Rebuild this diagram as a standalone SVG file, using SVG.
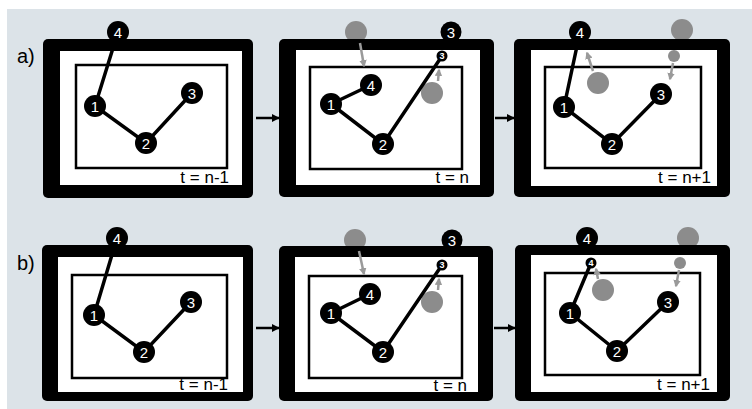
<svg xmlns="http://www.w3.org/2000/svg" width="752" height="409" viewBox="0 0 752 409">
<defs>
<style>
.bg{fill:#dce3e8}
.frame{fill:#000}
.white{fill:#fff}
.inner{fill:#fff;stroke:#000;stroke-width:2.5}
.edge{stroke:#000;stroke-width:3.5;fill:none}
.node{fill:#000}
.nt{fill:#fff;font-family:"Liberation Sans",Arial,sans-serif;font-size:15px;text-anchor:middle}
.snt{fill:#fff;font-family:"Liberation Sans",Arial,sans-serif;font-size:9px;font-weight:bold;text-anchor:middle}
.ghost{fill:#8c8c8c}
.garrow{stroke:#9a9a9a;stroke-width:2.5;fill:none;marker-end:url(#gh)}
.tlabel{font-family:"Liberation Sans",Arial,sans-serif;font-size:17px;fill:#000;text-anchor:end}
.rowlabel{font-family:"Liberation Sans",Arial,sans-serif;font-size:20px;fill:#000}
.flow{stroke:#000;stroke-width:2.5;fill:none;marker-end:url(#bh)}
</style>
<marker id="gh" viewBox="0 0 10 10" refX="8" refY="5" markerWidth="3" markerHeight="3" orient="auto" markerUnits="strokeWidth">
<path d="M0,0 L10,5 L0,10 z" fill="#9a9a9a"/>
</marker>
<marker id="bh" viewBox="0 0 10 10" refX="9" refY="5" markerWidth="3.2" markerHeight="3.2" orient="auto" markerUnits="strokeWidth">
<path d="M0,0 L10,5 L0,10 z" fill="#000"/>
</marker>
</defs>
<rect class="bg" x="7" y="9" width="745" height="400"/>
<text class="rowlabel" x="17" y="63">a)</text>
<text class="rowlabel" x="17" y="270">b)</text>

<g id="a1">
<rect class="frame" x="43" y="39" width="210" height="159" rx="5"/>
<rect class="white" x="60" y="51" width="182" height="134"/>
<rect class="inner" x="76" y="65" width="151" height="103"/>
<text class="tlabel" x="229" y="183">t = n-1</text>
</g>
<g id="a2">
<circle class="ghost" cx="356" cy="32" r="11"/>
<circle class="node" cx="451" cy="32" r="10.5"/>
<text class="nt" x="451" y="37.5">3</text>
<rect class="frame" x="279" y="39" width="215" height="158" rx="5"/>
<rect class="white" x="296" y="50" width="184" height="135"/>
<rect class="inner" x="310" y="67" width="152" height="102"/>
<circle class="ghost" cx="432" cy="93" r="11"/>
<text class="tlabel" x="469" y="183">t = n</text>
</g>
<g id="a3">
<circle class="ghost" cx="682" cy="30" r="11"/>
<rect class="frame" x="514" y="39" width="216" height="158" rx="5"/>
<rect class="white" x="531" y="50" width="186" height="136"/>
<rect class="inner" x="545" y="67" width="156" height="101"/>
<circle class="ghost" cx="598" cy="83" r="11"/>
<circle class="ghost" cx="674" cy="56" r="6"/>
<text class="tlabel" x="711" y="183">t = n+1</text>
</g>

<g id="b1">
<rect class="frame" x="42" y="245" width="211" height="156" rx="5"/>
<rect class="white" x="58" y="257" width="185" height="135"/>
<rect class="inner" x="72" y="275" width="155" height="103"/>
<text class="tlabel" x="228" y="390">t = n-1</text>
</g>
<g id="b2">
<circle class="ghost" cx="355" cy="240" r="11"/>
<circle class="node" cx="452" cy="240" r="10.5"/>
<text class="nt" x="452" y="245.5">3</text>
<rect class="frame" x="279" y="246" width="214" height="155" rx="5"/>
<rect class="white" x="295" y="257" width="183" height="135"/>
<rect class="inner" x="309" y="276" width="153" height="102"/>
<circle class="ghost" cx="432" cy="302" r="11"/>
<text class="tlabel" x="467" y="391">t = n</text>
</g>
<g id="b3">
<circle class="ghost" cx="688" cy="238" r="11"/>
<rect class="frame" x="515" y="245" width="215" height="156" rx="5"/>
<rect class="white" x="531" y="255" width="186" height="137"/>
<rect class="inner" x="545" y="273" width="155" height="102"/>
<circle class="ghost" cx="603" cy="290" r="11"/>
<circle class="ghost" cx="680" cy="263" r="6"/>
<text class="tlabel" x="710" y="390">t = n+1</text>
</g>

<g id="connectors">
<line class="flow" x1="256" y1="118" x2="279" y2="118"/>
<line class="flow" x1="495" y1="118" x2="514" y2="118"/>
<line class="flow" x1="256" y1="328" x2="279" y2="328"/>
<line class="flow" x1="494" y1="328" x2="515" y2="328"/>
<line class="garrow" x1="360" y1="43" x2="364" y2="66"/>
<line class="garrow" x1="438" y1="81" x2="439" y2="70"/>
<line class="garrow" x1="593" y1="71" x2="587" y2="53"/>
<line class="garrow" x1="673" y1="63" x2="670" y2="79"/>
<line class="garrow" x1="359" y1="251" x2="364" y2="274"/>
<line class="garrow" x1="438" y1="290" x2="439" y2="279"/>
<line class="garrow" x1="598" y1="279" x2="596" y2="269"/>
<line class="garrow" x1="679" y1="270" x2="676" y2="286"/>
<!-- edges a1 -->
<polyline class="edge" points="118,32 95,106 146,143 192,93"/>
<!-- edges a2 -->
<polyline class="edge" points="371,85 331,104 383,144 442,56"/>
<!-- edges a3 -->
<polyline class="edge" points="580,32 564,107 612,144 661,94"/>
<!-- edges b1 -->
<polyline class="edge" points="117,238 94,315 144,352 191,302"/>
<!-- edges b2 -->
<polyline class="edge" points="370,294 331,313 383,352 442,265"/>
<!-- edges b3 -->
<polyline class="edge" points="591,263 570,313 617,351 668,302"/>
</g>

<g id="a1-n4"><circle class="node" cx="118" cy="32" r="11"/><text class="nt" x="118" y="37.5">4</text></g>
<g id="a1-n1"><circle class="node" cx="95" cy="106" r="11"/><text class="nt" x="95" y="111.5">1</text></g>
<g id="a1-n2"><circle class="node" cx="146" cy="143" r="11"/><text class="nt" x="146" y="148.5">2</text></g>
<g id="a1-n3"><circle class="node" cx="192" cy="93" r="11"/><text class="nt" x="192" y="98.5">3</text></g>

<g id="a2-n4"><circle class="node" cx="371" cy="85" r="11"/><text class="nt" x="371" y="90.5">4</text></g>
<g id="a2-n1"><circle class="node" cx="331" cy="104" r="11"/><text class="nt" x="331" y="109.5">1</text></g>
<g id="a2-n2"><circle class="node" cx="383" cy="144" r="11"/><text class="nt" x="383" y="149.5">2</text></g>
<g id="a2-n3s"><circle class="node" cx="442" cy="56" r="5.5"/><text class="snt" x="442" y="59.2">3</text></g>

<g id="a3-n4"><circle class="node" cx="580" cy="32" r="11"/><text class="nt" x="580" y="37.5">4</text></g>
<g id="a3-n1"><circle class="node" cx="564" cy="107" r="11"/><text class="nt" x="564" y="112.5">1</text></g>
<g id="a3-n2"><circle class="node" cx="612" cy="144" r="11"/><text class="nt" x="612" y="149.5">2</text></g>
<g id="a3-n3"><circle class="node" cx="661" cy="94" r="11"/><text class="nt" x="661" y="99.5">3</text></g>

<g id="b1-n4"><circle class="node" cx="117" cy="238" r="11"/><text class="nt" x="117" y="243.5">4</text></g>
<g id="b1-n1"><circle class="node" cx="94" cy="315" r="11"/><text class="nt" x="94" y="320.5">1</text></g>
<g id="b1-n2"><circle class="node" cx="144" cy="352" r="11"/><text class="nt" x="144" y="357.5">2</text></g>
<g id="b1-n3"><circle class="node" cx="191" cy="302" r="11"/><text class="nt" x="191" y="307.5">3</text></g>

<g id="b2-n4"><circle class="node" cx="370" cy="294" r="11"/><text class="nt" x="370" y="299.5">4</text></g>
<g id="b2-n1"><circle class="node" cx="331" cy="313" r="11"/><text class="nt" x="331" y="318.5">1</text></g>
<g id="b2-n2"><circle class="node" cx="383" cy="352" r="11"/><text class="nt" x="383" y="357.5">2</text></g>
<g id="b2-n3s"><circle class="node" cx="442" cy="265" r="5.5"/><text class="snt" x="442" y="268.2">3</text></g>

<g id="b3-n4"><circle class="node" cx="587" cy="238" r="11"/><text class="nt" x="587" y="243.5">4</text></g>
<g id="b3-n4s"><circle class="node" cx="591" cy="263" r="5.5"/><text class="snt" x="591" y="266.2">4</text></g>
<g id="b3-n1"><circle class="node" cx="570" cy="313" r="11"/><text class="nt" x="570" y="318.5">1</text></g>
<g id="b3-n2"><circle class="node" cx="617" cy="351" r="11"/><text class="nt" x="617" y="356.5">2</text></g>
<g id="b3-n3"><circle class="node" cx="668" cy="302" r="11"/><text class="nt" x="668" y="307.5">3</text></g>
</svg>
